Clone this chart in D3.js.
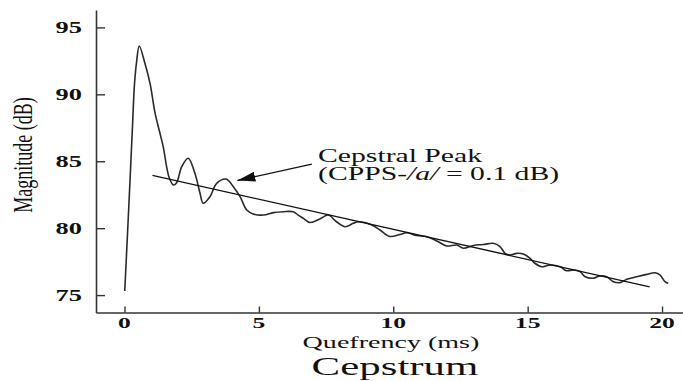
<!DOCTYPE html>
<html><head><meta charset="utf-8">
<script src="https://cdn.jsdelivr.net/npm/d3@7"></script>
<style>html,body{margin:0;padding:0;background:#fff;} svg{display:block;}</style>
</head><body><svg id="c" width="683" height="381"></svg>
<script>
// ---- data ----
const quefrency = [0.01,0.11,0.21,0.30,0.37,0.45,0.55,0.76,0.95,1.14,1.32,1.44,1.59,1.67,1.82,1.94,2.13,2.37,2.62,2.81,2.93,3.18,3.43,3.78,4.05,4.30,4.55,4.79,5.17,5.54,5.91,6.28,6.46,6.65,6.90,7.27,7.58,7.90,8.21,8.51,8.70,9.20,9.51,9.88,10.25,10.50,10.87,11.25,11.62,11.99,12.36,12.61,12.98,13.35,13.72,13.97,14.16,14.34,14.59,14.84,15.09,15.27,15.52,15.83,16.21,16.45,16.70,16.95,17.14,17.44,17.69,17.94,18.19,18.44,18.69,19.06,19.43,19.74,19.93,20.11,20.23];
const magnitude = [75.31,79.49,83.75,87.71,90.70,92.42,93.61,92.32,90.82,88.58,87.09,86.09,84.35,83.73,83.23,83.40,84.59,85.22,84.10,82.61,81.86,82.35,83.35,83.67,83.10,82.35,81.36,81.06,80.98,81.16,81.23,81.23,80.98,80.74,80.42,80.69,80.98,80.46,80.11,80.36,80.48,80.24,79.86,79.38,79.53,79.66,79.45,79.36,79.04,78.67,78.74,78.50,78.71,78.78,78.87,78.63,78.12,78.00,78.12,78.07,77.75,77.38,77.12,77.25,77.12,76.82,76.88,76.75,76.37,76.26,76.43,76.37,76.00,75.93,76.18,76.37,76.55,76.67,76.50,76.00,75.88];
const fitQuefrency = [1.04, 19.54];
const fitMagnitude = [83.94, 75.62];
const arrowQuefrency = [6.97, 4.20];
const arrowMagnitude = [84.79, 83.56];
const noteQuefrency = 7.2;
const noteMagnitude = [84.94, 83.60];
const xTicks = [0, 5, 10, 15, 20];
const yTicks = [75, 80, 85, 90, 95];
const xTickLabels = ["0", "5", "10", "15", "20"];
const yTickLabels = ["75", "80", "85", "90", "95"];
const xTitle = "Quefrency (ms)";
const yTitle = "Magnitude (dB)";
const chartTitle = "Cepstrum";
const noteLine1 = "Cepstral Peak";

// ---- layout ----
const SX = 1.65; // horizontal stretch of the original scan
const FONT = "'Liberation Serif','Times New Roman',serif";
const svg = d3.select("#c");
const x = d3.scaleLinear().domain([-1.06, 20.78]).range([96, 683]);
const y = d3.scaleLinear().domain([73.7, 96.3]).range([312.5, 10]);

const ax = svg.append("g").attr("transform", `translate(0,${y(73.7)})`)
  .call(d3.axisBottom(x).tickValues(xTicks).tickSize(-6).tickSizeOuter(0).tickFormat(""));
const ay = svg.append("g").attr("transform", `translate(${x(-1.06)},0)`)
  .call(d3.axisLeft(y).tickValues(yTicks).tickSize(-9).tickSizeOuter(0).tickFormat(""));
[ax, ay].forEach(g => {
  g.select(".domain").attr("stroke", "#333").attr("stroke-width", 1.6);
  g.selectAll(".tick line").attr("stroke", "#333").attr("stroke-width", 1.4);
});

function stext(px, py, str, size, anchor, weight, extra) {
  return svg.append("text")
    .attr("transform", `translate(${px},${py}) scale(${SX},1)` + (extra || ""))
    .attr("text-anchor", anchor).attr("font-family", FONT)
    .attr("font-size", size).attr("font-weight", weight || "normal")
    .attr("fill", "#111").text(str);
}

yTicks.forEach((v, i) => stext(82, y(v) + 5.5, yTickLabels[i], 16, "end", "bold"));
xTicks.forEach((v, i) => stext(x(v), 328, xTickLabels[i], 15.5, "middle", "bold"));

stext(391, 348, xTitle, 17, "middle");
stext(395, 375, chartTitle, 26, "middle");
svg.append("text")
  .attr("transform", `translate(32,155) scale(1.5,1) rotate(-90)`)
  .attr("text-anchor", "middle").attr("font-family", FONT)
  .attr("font-size", 18).attr("fill", "#111").text(yTitle);

// curve
const line = d3.line().x(d => x(d[0])).y(d => y(d[1])).curve(d3.curveCatmullRom.alpha(0.5));
svg.append("path").datum(quefrency.map((q, i) => [q, magnitude[i]]))
  .attr("d", line).attr("fill", "none").attr("stroke", "#2a2a2a").attr("stroke-width", 1.6);

// regression line
svg.append("path").datum(fitQuefrency.map((q, i) => [q, fitMagnitude[i]]))
  .attr("d", d3.line().x(d => x(d[0])).y(d => y(d[1])))
  .attr("fill", "none").attr("stroke", "#111").attr("stroke-width", 1.3);

// arrow
svg.append("defs").append("marker").attr("id", "ah")
  .attr("viewBox", "0 0 18 10").attr("refX", 18).attr("refY", 5)
  .attr("markerWidth", 18).attr("markerHeight", 10).attr("markerUnits", "userSpaceOnUse")
  .attr("orient", "auto")
  .append("path").attr("d", "M0,0 L18,5 L0,10 Z").attr("fill", "#111");
svg.append("line")
  .attr("x1", x(arrowQuefrency[0])).attr("y1", y(arrowMagnitude[0]))
  .attr("x2", x(arrowQuefrency[1])).attr("y2", y(arrowMagnitude[1]))
  .attr("stroke", "#111").attr("stroke-width", 1.4).attr("marker-end", "url(#ah)");

// annotation
stext(x(noteQuefrency), y(noteMagnitude[0]), noteLine1, 18, "start");
const t2 = stext(x(noteQuefrency), y(noteMagnitude[1]), "", 18, "start");
t2.append("tspan").text("(CPPS-");
t2.append("tspan").attr("font-style", "italic").text("/a/");
t2.append("tspan").text(" = 0.1 dB)");
</script></body></html>
